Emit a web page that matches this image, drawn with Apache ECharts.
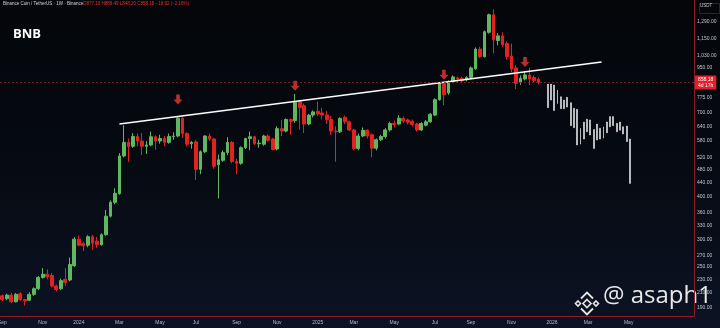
<!DOCTYPE html>
<html><head><meta charset="utf-8">
<script src="https://cdn.jsdelivr.net/npm/echarts@6/dist/echarts.min.js"></script>
<style>
html,body{margin:0;padding:0;background:#05070b;}
#c{width:720px;height:328px;background:linear-gradient(180deg,#04060a 0%,#060a11 50%,#0b1324 100%);}
</style>
</head><body><div id="c"></div>
<script>
// ---- data ----
const firstWeek = '2023-09-04';
const weekCount = 154;
const lastLabelWeek = 140;
const weeks = [];
for (let i = 0; i < weekCount; i++) {
  const d = new Date(Date.UTC(2023, 8, 4 + 7 * i));
  weeks.push(d.toISOString().slice(0, 10));
}
// weekly BNB candles: [open, close, low, high]
const bnbWeekly = [
 [206,201,199,208],[202,207,200,209],[207,198,196,210],[198,208,197,210],[209,201,199,211],
 [201,199,193,202],[200,208,199,211],[208,216,206,218],[216,233,214,235],[233,238,231,248],
 [238,234,230,246],[236,220,218,240],[220,215,212,222],[216,228,214,231],[230,225,220,248],
 [229,254,227,266],[252,301,250,305],[301,289,287,308],[292,288,278,296],[289,306,285,309],
 [306,293,280,310],[297,290,284,305],[290,310,288,313],[310,351,308,366],[351,385,348,390],
 [385,409,380,423],[408,525,405,535],[525,575,520,645],[575,560,505,590],[560,598,555,612],
 [598,580,560,610],[580,560,528,612],[560,565,532,580],[565,597,560,618],[597,580,548,602],
 [580,590,570,605],[590,575,560,600],[575,598,570,610],[598,600,585,615],[600,676,595,683],
 [676,610,592,680],[610,568,560,615],[570,575,551,580],[577,480,447,585],[480,540,465,545],
 [540,600,535,603],[600,588,580,610],[588,490,482,592],[495,512,395,530],[510,537,505,545],
 [537,575,528,595],[575,506,500,580],[506,500,465,515],[500,555,495,560],[555,590,550,593],
 [590,597,545,618],[597,570,565,600],[570,572,555,585],[568,600,562,605],[600,583,578,607],
 [588,548,545,592],[550,630,545,640],[630,620,600,668],[620,670,615,675],[670,662,605,675],
 [665,752,655,795],[755,725,626,760],[735,650,612,745],[650,690,645,695],[690,705,680,712],
 [708,695,685,755],[700,690,670,725],[690,670,650,710],[670,620,605,685],[620,618,505,640],
 [617,675,612,680],[680,660,650,688],[660,625,620,665],[625,552,545,630],[552,600,545,610],
 [600,623,595,635],[623,600,590,628],[605,553,520,610],[553,585,545,590],[585,598,580,605],
 [598,625,590,632],[625,652,618,660],[652,648,635,665],[650,676,645,690],[675,663,655,684],
 [668,658,648,675],[662,648,640,670],[650,625,618,655],[625,652,620,658],[645,660,640,668],
 [660,694,655,700],[690,765,685,772],[765,853,760,860],[853,790,737,862],[800,864,790,870],
 [864,891,855,900],[885,880,862,893],[883,868,855,892],[873,887,865,895],[888,946,880,955],
 [940,1073,935,1085],[1073,1020,1010,1090],[1020,1205,1015,1215],[1200,1350,1190,1360],[1350,1140,1043,1400],
 [1136,1172,1100,1195],[1172,1104,1090,1200],[1114,1020,1000,1130],[1024,940,921,1114],[946,853,822,965],
 [860,883,845,900],[878,903,870,925],[903,878,843,946],[887,869,860,900],[877,858,848,889]
];
// projected bars pattern: [high, low]
const projSlots = 211;
const projStart = 166;
const projection = [
 [849,725],[849,763],[844,711],[816,745],[780,720],[763,720],[777,728],[750,643],[722,634],[717,565],
 [632,568],[659,588],[671,617],[668,604],[627,552],[650,584],[632,588],[638,591],[659,613],[683,638],
 [683,643],[653,617],[659,624],[638,608],[641,578],[588,437]
];
const trendline = [[26, 650], [133, 984]];
const arrowMarks = [[39, 766], [65, 839], [98, 904], [116, 984]];
const yTicks = [1290,1150,1030,950,775,700,640,580,520,480,440,400,360,330,300,270,250,230,210,190];
const lastPrice = 858.18;
const headerLeft = 'Binance Coin / TetherUS · 1W · Binance';
const headerRight = 'O877.10 H889.49 L848.20 C858.18 −18.92 (−2.16%)';

// ---- build ----
const monthNames = ['Jan','Feb','Mar','Apr','May','Jun','Jul','Aug','Sep','Oct','Nov','Dec'];
function isMonthStart(i) {
  if (i > lastLabelWeek) return false;
  const m = +weeks[i].slice(5, 7);
  if (i === 0) return (m - 1) % 2 === 0;
  const pm = +weeks[i - 1].slice(5, 7);
  return m !== pm && (m - 1) % 2 === 0;
}
const projData = [];
for (let k = 0; k < projSlots; k++) {
  const j = k - projStart;
  if (j >= 0 && j < projection.length) {
    const [h, l] = projection[j];
    projData.push([h, l, l, h]);
  } else projData.push(['-', '-', '-', '-']);
}
const projCats = [];
for (let k = 0; k < projSlots; k++) projCats.push(String(k));

const chart = echarts.init(document.getElementById('c'), null, {renderer: 'canvas'});
const UP = '#5fb760', DOWN = '#e3211f';
chart.setOption({
  backgroundColor: 'transparent',
  animation: false,
  grid: {left: 0, right: 26, top: 0, bottom: 12, containLabel: false, outerBoundsMode: 'none'},
  xAxis: [{
    type: 'category', data: weeks, boundaryGap: true,
    axisLine: {show: true, lineStyle: {color: '#8e1c27', width: 1}},
    axisTick: {show: false},
    splitLine: {show: false},
    axisLabel: {
      interval: (i) => isMonthStart(i),
      formatter: (v) => {
        const m = +v.slice(5, 7);
        return m === 1 ? v.slice(0, 4) : monthNames[m - 1];
      },
      color: '#b9bcc4', fontSize: 5, margin: 4, fontFamily: 'Liberation Sans'
    }
  }, {
    type: 'category', data: projCats, boundaryGap: true, show: false
  }],
  yAxis: {
    type: 'log', logBase: 10, min: 180, max: 1490, position: 'right',
    axisLine: {show: true, lineStyle: {color: '#8e1c27', width: 1}},
    axisTick: {show: false},
    splitLine: {show: false},
    axisLabel: {
      customValues: yTicks,
      formatter: (v) => Number(v).toLocaleString('en-US', {minimumFractionDigits: 2, maximumFractionDigits: 2}),
      color: '#c3c6cd', fontSize: 5, margin: 3, fontFamily: 'Liberation Sans'
    }
  },
  series: [{
    type: 'candlestick', name: 'BNB', data: bnbWeekly, barWidth: '72%',
    itemStyle: {color: UP, color0: DOWN, borderColor: UP, borderColor0: DOWN, borderWidth: 1},
    markLine: {
      symbol: ['none', 'none'], silent: true, animation: false,
      data: [{yAxis: lastPrice}],
      lineStyle: {color: '#8f222c', type: [2, 2], width: 0.8},
      label: {
        show: true, position: 'end', distance: 1,
        formatter: lastPrice.toFixed(2) + '\n4d 17h',
        backgroundColor: '#e0212e', color: '#ffffff', fontSize: 5, lineHeight: 6,
        padding: [1, 3, 1, 3], fontFamily: 'Liberation Sans'
      }
    }
  }, {
    type: 'candlestick', name: 'projection', xAxisIndex: 1, data: projData, barWidth: 1.4,
    itemStyle: {color: '#f4f4f4', color0: '#f4f4f4', borderColor: '#f4f4f4', borderColor0: '#f4f4f4', borderWidth: 0.5}
  }, {
    type: 'line', name: 'trend', data: trendline, symbol: 'none',
    lineStyle: {color: '#ffffff', width: 1.4}
  }, {
    type: 'scatter', name: 'arrows', data: arrowMarks,
    symbol: 'path://M3,0 L7,0 L7,5 L10,5 L5,10 L0,5 L3,5 Z', symbolSize: [9, 10],
    itemStyle: {color: '#e53935'}
  }],
  graphic: [
    {type: 'text', left: 3, top: 1, style: {text: headerLeft, fill: '#d1d4dc', fontSize: 4.5, fontFamily: 'Liberation Sans'}},
    {type: 'text', left: 83, top: 1, style: {text: headerRight, fill: '#e3322f', fontSize: 4.5, fontFamily: 'Liberation Sans'}},
    {type: 'text', left: 13, top: 28, style: {text: 'BNB', fill: '#ffffff', fontSize: 13, fontWeight: 'bold', fontFamily: 'Open Sans'}},
    {type: 'rect', left: 697, top: 1, shape: {width: 20, height: 10}, style: {fill: 'none', stroke: '#3a3e48', lineWidth: 0.6}},
    {type: 'text', left: 700, top: 3.5, style: {text: 'USDT', fill: '#c3c6cd', fontSize: 4.5, fontFamily: 'Liberation Sans'}},
    {type: 'group', left: 573, top: 290, children: [
      {type: 'polygon', shape: {points: [[13,7],[17,11],[13,15],[9,11]]}, style: {fill: 'none', stroke: '#e6e6e6', lineWidth: 1.6}},
      {type: 'polygon', shape: {points: [[4,8.5],[6.5,11],[4,13.5],[1.5,11]]}, style: {fill: 'none', stroke: '#e6e6e6', lineWidth: 1.6}},
      {type: 'polygon', shape: {points: [[22,8.5],[24.5,11],[22,13.5],[19.5,11]]}, style: {fill: 'none', stroke: '#e6e6e6', lineWidth: 1.6}},
      {type: 'polyline', shape: {points: [[7,6],[13,0],[19,6]]}, style: {fill: 'none', stroke: '#e6e6e6', lineWidth: 1.8}},
      {type: 'polyline', shape: {points: [[7,16],[13,22],[19,16]]}, style: {fill: 'none', stroke: '#e6e6e6', lineWidth: 1.8}}
    ]},
    {type: 'text', left: 603, top: 284, style: {text: '@ asaph1', fill: '#e8e8e8', fontSize: 24, fontFamily: 'Open Sans'}}
  ]
});
</script>
</body></html>
